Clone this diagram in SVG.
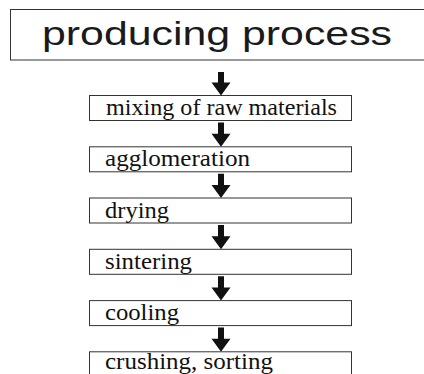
<svg xmlns="http://www.w3.org/2000/svg" width="424" height="374" viewBox="0 0 424 374">
  <style>
    .frame { fill: #ffffff; stroke: #333333; stroke-width: 1; }
    .title { font-family: "Liberation Sans", Arial, sans-serif; font-size: 34px; fill: #1a1a1a; }
    .step { font-family: "Liberation Serif", "Times New Roman", serif; font-size: 22.5px; fill: #111111; }
    .arrow { fill: #111111; }
  </style>
  <rect width="424" height="374" fill="#ffffff"/>

  <g id="title">
    <rect class="frame" x="10.5" y="9.5" width="430" height="50.5"/>
    <text class="title" x="42" y="45" textLength="350" lengthAdjust="spacingAndGlyphs">producing process</text>
  </g>

  <!-- downward block arrows: shaft 6 wide, head 19 wide x 13 tall -->
  <g id="connectors">
    <polygon class="arrow" points="218,72 224,72 224,82.5 230.5,82.5 221,95.5 211.5,82.5 218,82.5"/>
    <polygon class="arrow" points="218,122.5 224,122.5 224,133.8 230.5,133.8 221,146.8 211.5,133.8 218,133.8"/>
    <polygon class="arrow" points="218,173.8 224,173.8 224,185 230.5,185 221,198 211.5,185 218,185"/>
    <polygon class="arrow" points="218,225 224,225 224,236.3 230.5,236.3 221,249.3 211.5,236.3 218,236.3"/>
    <polygon class="arrow" points="218,276.3 224,276.3 224,287.6 230.5,287.6 221,300.6 211.5,287.6 218,287.6"/>
    <polygon class="arrow" points="218,327.6 224,327.6 224,338.8 230.5,338.8 221,351.8 211.5,338.8 218,338.8"/>
  </g>

  <g id="mixing">
    <rect class="frame" x="89.5" y="95.5" width="262" height="25"/>
    <text class="step" x="106" y="115" textLength="231" lengthAdjust="spacingAndGlyphs">mixing of raw materials</text>
  </g>
  <g id="agglomeration">
    <rect class="frame" x="89.5" y="146.8" width="262" height="25"/>
    <text class="step" x="105" y="166.3" textLength="145" lengthAdjust="spacingAndGlyphs">agglomeration</text>
  </g>
  <g id="drying">
    <rect class="frame" x="89.5" y="198" width="262" height="25"/>
    <text class="step" x="105" y="217.5" textLength="64" lengthAdjust="spacingAndGlyphs">drying</text>
  </g>
  <g id="sintering">
    <rect class="frame" x="89.5" y="249.3" width="262" height="25"/>
    <text class="step" x="105" y="268.8" textLength="87" lengthAdjust="spacingAndGlyphs">sintering</text>
  </g>
  <g id="cooling">
    <rect class="frame" x="89.5" y="300.6" width="262" height="25"/>
    <text class="step" x="105" y="320.1" textLength="74" lengthAdjust="spacingAndGlyphs">cooling</text>
  </g>
  <g id="crushing">
    <rect class="frame" x="89.5" y="351.8" width="262" height="25"/>
    <text class="step" x="105" y="368.5" textLength="168" lengthAdjust="spacingAndGlyphs">crushing, sorting</text>
  </g>
</svg>
